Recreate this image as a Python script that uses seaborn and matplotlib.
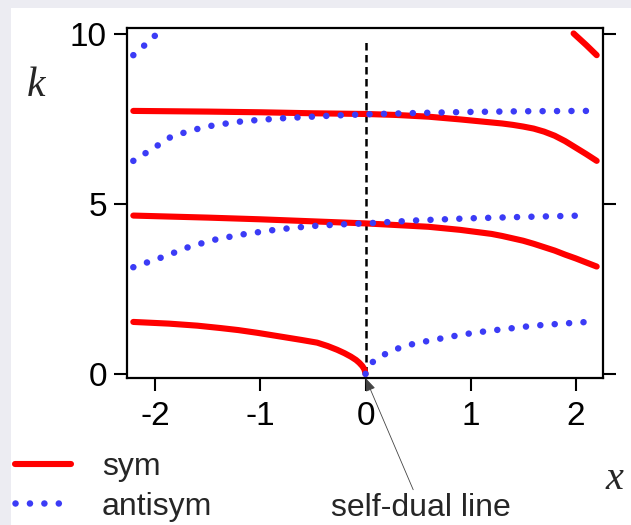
import numpy as np
import pandas as pd
import seaborn as sns
import matplotlib.pyplot as plt
from matplotlib.patches import Rectangle

# sym branches (red, solid)
sym_x_low = [-2.21, -1.87, -1.60, -1.38, -1.21, -1.03, -0.87, -0.73, -0.61, -0.46,
             -0.36, -0.27, -0.2, -0.14, -0.09, -0.06, -0.03, -0.01, 0.0]
sym_k_low = [1.53, 1.48, 1.42, 1.35, 1.29, 1.21, 1.13, 1.06, 1.00, 0.92,
             0.82, 0.71, 0.61, 0.51, 0.41, 0.33, 0.23, 0.13, 0.0]
sym_x_mid = [-2.21, -1.5, -1.0, -0.5, 0.0, 0.3, 0.6, 0.9, 1.2, 1.3, 1.4, 1.5,
             1.6, 1.7, 1.8, 1.9, 2.0, 2.1, 2.2]
sym_k_mid = [4.66, 4.60, 4.55, 4.49, 4.43, 4.38, 4.33, 4.24, 4.12, 4.06, 3.99, 3.92,
             3.83, 3.73, 3.63, 3.51, 3.40, 3.28, 3.16]
sym_x_up = [-2.21, -1.5, -1.0, -0.5, 0.0, 0.3, 0.6, 0.9, 1.2, 1.3, 1.4, 1.5,
            1.6, 1.7, 1.8, 1.9, 2.0, 2.1, 2.2]
sym_k_up = [7.74, 7.72, 7.70, 7.67, 7.65, 7.62, 7.57, 7.49, 7.40, 7.37, 7.33, 7.28,
            7.22, 7.13, 7.01, 6.85, 6.66, 6.47, 6.27]
sym_x_top = [1.98, 2.1, 2.2]
sym_k_top = [10.02, 9.68, 9.38]

# antisym branches (blue, dotted)
anti_x_low = [0.0, 0.01, 0.03, 0.05, 0.08, 0.11, 0.16, 0.21, 0.30, 0.41, 0.51, 0.61,
              0.73, 0.87, 1.03, 1.21, 1.38, 1.60, 1.87, 2.16]
anti_k_low = [0.0, 0.13, 0.23, 0.30, 0.38, 0.45, 0.54, 0.62, 0.74, 0.85, 0.92, 0.98,
              1.05, 1.13, 1.21, 1.28, 1.34, 1.42, 1.48, 1.54]
anti_x_mid = [-2.21, -1.92, -1.67, -1.41, -1.16, -0.84, -0.52, -0.17, 0.0, 0.5, 1.0, 1.5, 2.06]
anti_k_mid = [3.14, 3.45, 3.75, 3.97, 4.11, 4.25, 4.35, 4.41, 4.43, 4.52, 4.58, 4.62, 4.66]
anti_x_up = [-2.21, -2.02, -1.86, -1.67, -1.44, -1.16, -0.81, -0.33, 0.0, 0.5, 1.0, 1.5, 2.11]
anti_k_up = [6.27, 6.64, 6.96, 7.16, 7.32, 7.44, 7.52, 7.60, 7.64, 7.68, 7.71, 7.73, 7.74]
anti_x_top = [-2.21, -2.1, -1.98]
anti_k_top = [9.38, 9.68, 10.02]

self_dual_x = 0.0
x_ticks = [-2, -1, 0, 1, 2]
k_ticks = [0, 5, 10]

sym_branches = [(sym_x_low, sym_k_low), (sym_x_mid, sym_k_mid),
                (sym_x_up, sym_k_up), (sym_x_top, sym_k_top)]
anti_branches = [(anti_x_low, anti_k_low), (anti_x_mid, anti_k_mid),
                 (anti_x_up, anti_k_up), (anti_x_top, anti_k_top)]

sns.set_style('ticks')
plt.rcParams['font.family'] = ['Liberation Sans', 'DejaVu Sans']

RED = '#ff0000'
BLUE = '#3b3bf6'

fig = plt.figure(figsize=(6.31, 5.25), dpi=100, facecolor='#ececf2')
# white panel behind the chart, grey strip on top and left
fig.patches.append(Rectangle((11 / 631, 0), 1, 1 - 8 / 525, transform=fig.transFigure,
                             facecolor='white', edgecolor='none', zorder=-10))
ax = fig.add_axes([127 / 631, 1 - 378 / 525, 476 / 631, 350 / 525])
ax.set_facecolor('white')

ax.vlines(self_dual_x, 0, 9.9, colors='black', linewidth=1.8,
          linestyles=(0, (3.0, 1.8)), zorder=1)

for i, (bx, bk) in enumerate(sym_branches):
    df = pd.DataFrame({'x': bx, 'k': bk})
    sns.lineplot(data=df, x='x', y='k', ax=ax, sort=False, estimator=None,
                 color=RED, linewidth=4.4, solid_capstyle='round',
                 solid_joinstyle='round',
                 label='sym' if i == 0 else None, legend=False, zorder=3)

for i, (bx, bk) in enumerate(anti_branches):
    df = pd.DataFrame({'x': bx, 'k': bk})
    sns.lineplot(data=df, x='x', y='k', ax=ax, sort=False, estimator=None,
                 color=BLUE, linewidth=4.7, linestyle=(0, (0.01, 2.2)),
                 dash_capstyle='round',
                 label='antisym' if i == 0 else None, legend=False, zorder=4)

ax.set_xlim(-2.27, 2.26)
ax.set_ylim(-0.12, 10.18)
ax.set_xticks(x_ticks)
ax.set_xticklabels([str(t) for t in x_ticks])
ax.set_yticks(k_ticks)
ax.set_yticklabels([str(t) for t in k_ticks])
ax.tick_params(axis='both', direction='out', length=9.5, width=1.5,
               labelsize=24, color='black', labelcolor='black')
ax.tick_params(axis='x', pad=7)
ax.tick_params(axis='y', pad=5, right=True, labelright=False)
for s in ax.spines.values():
    s.set_visible(True)
    s.set_linewidth(1.6)
    s.set_color('black')

ax.set_xlabel('x', family='Liberation Serif', style='italic', fontsize=29)
ax.set_ylabel('k', family='Liberation Serif', style='italic', fontsize=30, rotation=0)
ax.xaxis.set_label_coords(1.025, -0.289)
ax.yaxis.set_label_coords(-0.191, 0.836)
ax.xaxis.label.set_va('center')
ax.yaxis.label.set_va('center')

ax.annotate('self-dual line', xy=(self_dual_x, 0), xycoords=('data', 'axes fraction'),
            xytext=(421 / 631, 1 - 508 / 525), textcoords='figure fraction',
            ha='center', va='center', fontsize=23,
            arrowprops=dict(arrowstyle='-|>,head_length=0.35,head_width=0.13',
                            color='#444444', lw=0.6, shrinkA=0, shrinkB=0))

ax.legend(loc='upper left', bbox_to_anchor=(15 / 631, 1 - 452 / 525),
          bbox_transform=fig.transFigure, frameon=False, fontsize=23,
          borderpad=0, borderaxespad=0, handlelength=1.75, handletextpad=0.97,
          labelspacing=0.3)

fig.savefig('out.png', dpi=100, facecolor=fig.get_facecolor())
